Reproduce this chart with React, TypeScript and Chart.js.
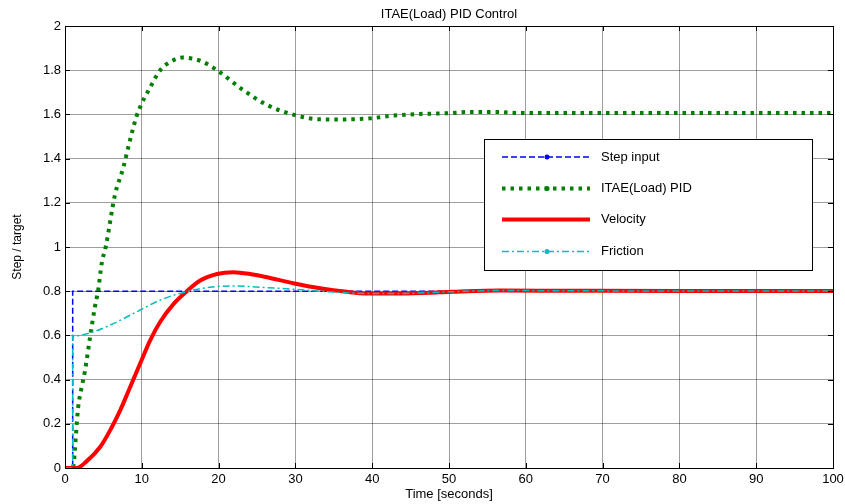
import React, { useEffect, useRef } from "react";
import { Chart, registerables } from "chart.js";

Chart.register(...registerables);

const titleText = "ITAE(Load) PID Control";
const xTitle = "Time [seconds]";
const yTitle = "Step / target";

const seriesNames = ["Step input", "ITAE(Load) PID", "Velocity", "Friction"];

const stepTime = [0, 1, 1, 100];
const stepValues = [0, 0, 0.8, 0.8];

const itaeTime = [0, 1, 1.1, 1.7, 2.2, 2.6, 3.3, 3.9, 4.3, 4.8, 5.3, 6.5, 7.6, 8.3, 9.3, 10, 10.9, 12.4, 14.1, 15.3, 16.5, 17.8, 19.8, 23.2, 26.3, 29.6, 33.2, 36, 39.7, 42.3, 46.2, 49.7, 52.7, 56.2, 59.2, 65, 75, 85, 100];
const itaeValues = [0, 0, 0.01, 0.27, 0.37, 0.44, 0.6, 0.73, 0.8, 0.93, 1.0, 1.235, 1.36, 1.46, 1.59, 1.65, 1.71, 1.8, 1.845, 1.857, 1.853, 1.84, 1.8, 1.71, 1.643, 1.6, 1.578, 1.577, 1.582, 1.593, 1.602, 1.605, 1.611, 1.611, 1.606, 1.606, 1.606, 1.606, 1.606];

const velTime = [0, 1, 1.5, 2.8, 4.6, 5.9, 7.2, 8.5, 9.8, 11.1, 12.4, 14.2, 15.8, 17.6, 19.8, 21.9, 24.1, 26.3, 29.7, 33.2, 36.7, 39.3, 43.6, 48.8, 52.3, 56.6, 65, 80, 100];
const velValues = [0, 0, 0, 0.03, 0.096, 0.172, 0.262, 0.368, 0.474, 0.579, 0.662, 0.745, 0.798, 0.848, 0.878, 0.886, 0.878, 0.863, 0.836, 0.813, 0.797, 0.79, 0.79, 0.795, 0.8, 0.803, 0.802, 0.801, 0.801];

const fricTime = [0, 1, 1.0001, 1.1, 3.3, 5.9, 9.8, 12.4, 15.8, 18.9, 21.9, 25.4, 29.7, 34.1, 39.3, 43.6, 48.8, 52.3, 56.6, 65, 80, 100];
const fricValues = [0, 0, 0.6, 0.597, 0.612, 0.647, 0.715, 0.76, 0.798, 0.818, 0.824, 0.818, 0.809, 0.798, 0.79, 0.79, 0.795, 0.8, 0.803, 0.802, 0.801, 0.801];

const FONT = "'Liberation Sans', Arial, sans-serif";

const toPoints = (xs: number[], ys: number[]) => xs.map((x, i) => ({ x, y: ys[i] }));

const styles = [
  { color: "#0000ff", width: 1.5, dash: [6, 3], marker: true },
  { color: "#008000", width: 4, dash: [3.5, 5], marker: true },
  { color: "#ff0000", width: 4, dash: [] as number[], marker: false },
  { color: "#00bfbf", width: 1.5, dash: [7, 3, 2, 3], marker: true },
];

const overlayPlugin = {
  id: "overlay",
  afterDraw(chart: any) {
    const ctx = chart.ctx;
    const a = chart.chartArea;
    ctx.save();
    ctx.strokeStyle = "#000";
    ctx.lineWidth = 1;
    ctx.setLineDash([]);
    ctx.strokeRect(Math.round(a.left) + 0.5, Math.round(a.top) + 0.5, Math.round(a.right - a.left), Math.round(a.bottom - a.top));
    const xs = chart.scales.x;
    const ys = chart.scales.y;
    ctx.beginPath();
    xs.ticks.forEach((t: any) => {
      const px = Math.round(xs.getPixelForValue(t.value)) + 0.5;
      ctx.moveTo(px, a.bottom); ctx.lineTo(px, a.bottom - 5);
      ctx.moveTo(px, a.top); ctx.lineTo(px, a.top + 5);
    });
    ys.ticks.forEach((t: any) => {
      const py = Math.round(ys.getPixelForValue(t.value)) + 0.5;
      ctx.moveTo(a.left, py); ctx.lineTo(a.left + 5, py);
      ctx.moveTo(a.right, py); ctx.lineTo(a.right - 5, py);
    });
    ctx.stroke();
    ctx.fillStyle = "#000";
    ctx.font = `13px ${FONT}`;
    ctx.textAlign = "center";
    ctx.textBaseline = "middle";
    const cx = (a.left + a.right) / 2;
    ctx.fillText(titleText, cx, 14);
    ctx.fillText(xTitle, cx, 494);
    ctx.save();
    ctx.translate(18, 247);
    ctx.rotate(-Math.PI / 2);
    ctx.font = `12px ${FONT}`;
    ctx.fillText(yTitle, 0, 0);
    ctx.restore();
    const bx = 484, by = 139, bw = 328, bh = 131;
    ctx.fillStyle = "#fff";
    ctx.fillRect(bx, by, bw, bh);
    ctx.strokeStyle = "#000";
    ctx.lineWidth = 1;
    ctx.strokeRect(bx + 0.5, by + 0.5, bw, bh);
    const rows = [157, 188.5, 219.5, 251.5];
    seriesNames.forEach((name, i) => {
      const s = styles[i];
      const y = rows[i];
      ctx.beginPath();
      ctx.strokeStyle = s.color;
      ctx.lineWidth = s.width;
      ctx.setLineDash(s.dash);
      ctx.moveTo(502, y);
      ctx.lineTo(590, y);
      ctx.stroke();
      ctx.setLineDash([]);
      if (s.marker) {
        ctx.beginPath();
        ctx.fillStyle = s.color;
        ctx.arc(547, y, 2.5, 0, Math.PI * 2);
        ctx.fill();
      }
      ctx.fillStyle = "#000";
      ctx.font = `13px ${FONT}`;
      ctx.textAlign = "left";
      ctx.textBaseline = "middle";
      ctx.fillText(name, 601, y);
    });
    ctx.restore();
  },
};

export default function App() {
  const ref = useRef<HTMLCanvasElement | null>(null);
  useEffect(() => {
    if (!ref.current) return;
    const data = [
      toPoints(stepTime, stepValues),
      toPoints(itaeTime, itaeValues),
      toPoints(velTime, velValues),
      toPoints(fricTime, fricValues),
    ];
    const chart = new Chart(ref.current, {
      type: "line",
      data: {
        datasets: seriesNames.map((name, i) => ({
          label: name,
          data: data[i],
          borderColor: styles[i].color,
          backgroundColor: styles[i].color,
          borderWidth: styles[i].width,
          borderDash: styles[i].dash,
          borderCapStyle: "butt",
          pointRadius: 0,
          fill: false,
          tension: 0,
          cubicInterpolationMode: i === 0 ? "default" : "monotone",
          order: 4 - i,
        })) as any,
      },
      options: {
        animation: false,
        responsive: false,
        devicePixelRatio: 1,
        layout: { padding: { left: 0, right: 12, top: 26, bottom: 0 } },
        plugins: { legend: { display: false }, title: { display: false }, tooltip: { enabled: false } },
        scales: {
          x: {
            type: "linear",
            min: 0,
            max: 100,
            ticks: { stepSize: 10, color: "#000", font: { family: FONT, size: 13 }, padding: 4, maxRotation: 0 },
            grid: { color: "rgba(0,0,0,0.38)", lineWidth: 1, drawTicks: false },
            border: { color: "#000", width: 1 },
            afterFit: (s: any) => { s.height = 36; s.paddingLeft = 0; s.paddingRight = 0; },
          },
          y: {
            type: "linear",
            min: 0,
            max: 2,
            ticks: {
              stepSize: 0.2,
              color: "#000",
              font: { family: FONT, size: 13 },
              padding: 4,
              callback: (v: any) => String(Number(Number(v).toFixed(1))),
            },
            grid: { color: "rgba(0,0,0,0.38)", lineWidth: 1, drawTicks: false },
            border: { color: "#000", width: 1 },
            afterFit: (s: any) => { s.width = 65; s.paddingTop = 0; s.paddingBottom = 0; },
          },
        },
      },
      plugins: [overlayPlugin],
    });
    return () => chart.destroy();
  }, []);
  return (
    <div style={{ position: "absolute", left: 0, top: 0, width: 845, height: 504, background: "#fff" }}>
      <canvas ref={ref} width={845} height={504} />
    </div>
  );
}
